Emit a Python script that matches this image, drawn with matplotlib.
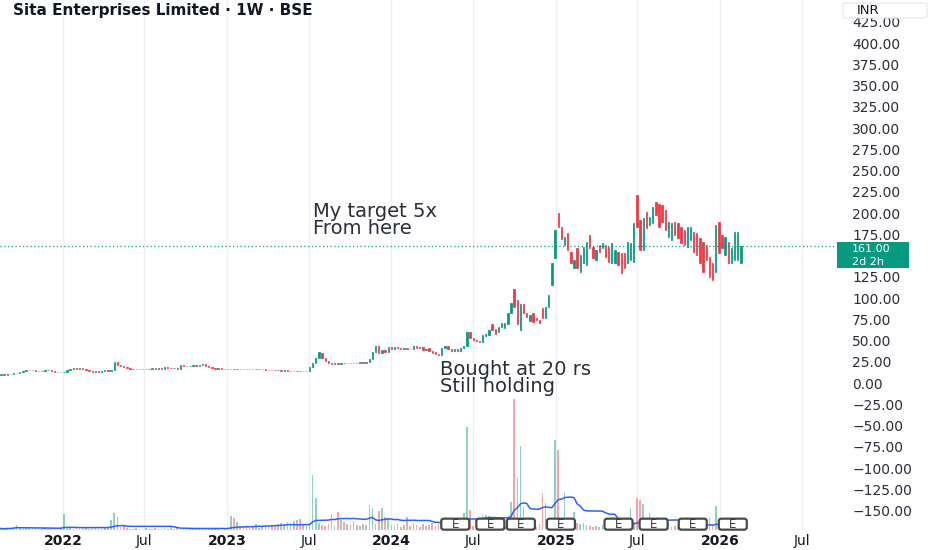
import numpy as np
import pandas as pd
import matplotlib
matplotlib.use('Agg')
import matplotlib.pyplot as plt
import matplotlib.dates as mdates
from matplotlib.patches import FancyBboxPatch, Rectangle
from matplotlib.transforms import ScaledTranslation

title = 'Sita Enterprises Limited · 1W · BSE'
first_week = '2021-08-16'

# weekly opens / closes
opens = [
    # 2021-08 .. 2023-07 (flat part)
    10, 10.5, 10, 11, 10.8, 11.5, 12, 12.5, 14.5, 15.5, 15, 15.3, 14.5, 14, 14.2, 15,
    15.5, 14, 13, 12.5, 12.8, 13.5, 15, 16.5, 17.5, 17, 17.5, 16, 15, 14.5, 13.5, 14,
    13.2, 14, 15, 14.6, 15.5, 24.5, 21, 19.5,
    19, 17.5, 16.5, 17, 16, 16.5, 16, 16.8, 16.5, 17.2, 16.8, 17.5, 17,
    19, 18, 17.2, 17.5, 17, 21, 20.5, 20, 20.5, 21, 20.6, 21.2, 22, 20,
    18.5, 17.5, 17, 17.3, 16.8, 17,
    16.5, 16.8, 16.2, 16.6, 16.3, 16.9, 16.4, 16.7, 16.2, 16.5, 16, 16.3,
    15.8, 15.2, 15, 14.8, 15.1, 14.6, 14.9, 14.4, 14.7, 14.3, 14.6, 14.2, 13.8,
    # 2023-07 .. 2024-12
    14.5, 19, 24, 29, 35, 29, 26, 23.5,
    22, 23, 22.5, 23.5, 23, 23.8, 23.2, 24, 23.5, 24.2, 23.8,
    24.5, 28, 37, 43, 35, 39, 36, 42, 40.5, 42, 41, 40, 41.5, 40.5, 39.5,
    44, 41, 42, 38.5, 41, 38, 36, 34, 33.5, 41, 44, 40, 38, 39.5, 37.5, 41,
    44, 60, 53, 51, 50, 48.5, 55, 57, 70, 64, 60, 66, 65, 70, 82, 111, 98, 62, 93, 82,
    # 2024-12 .. 2026-02
    73, 82, 76, 74, 88, 76, 89, 115, 147, 200,
    184, 162, 176, 154, 135, 159, 131, 141, 139, 174,
    160, 145, 162, 159, 162, 160, 141, 141, 154, 153,
    153, 141, 145, 142, 221, 192, 156, 201, 186, 188,
    213, 211, 209, 204, 172, 168, 189, 188, 184, 180,
    160, 168, 178, 176, 171, 166, 162, 148, 141, 131,
    189, 174, 151, 166, 141, 145, 145, 141,
]
closes = [
    10.5, 10, 11, 10.8, 11.5, 12, 12.5, 14.5, 15.5, 15, 15.3, 14.5, 14, 14.2, 15, 15.5,
    14, 13, 12.5, 12.8, 13.5, 15, 16.5, 17.5, 17, 17.5, 16, 15, 14.5, 13.5, 14, 13.2,
    14, 15, 14.6, 15.5, 24.5, 21, 19.5, 19,
    17.5, 16.5, 17, 16, 16.5, 16, 16.8, 16.5, 17.2, 16.8, 17.5, 17, 19,
    18, 17.2, 17.5, 17, 21, 20.5, 20, 20.5, 21, 20.6, 21.2, 22, 20, 18.5,
    17.5, 17, 17.3, 16.8, 17, 16.5,
    16.8, 16.2, 16.6, 16.3, 16.9, 16.4, 16.7, 16.2, 16.5, 16, 16.3, 15.8,
    15.2, 15, 14.8, 15.1, 14.6, 14.9, 14.4, 14.7, 14.3, 14.6, 14.2, 13.8, 14.5,
    19, 24, 29, 36, 29, 26, 23.5, 22,
    23, 22.5, 23.5, 23, 23.8, 23.2, 24, 23.5, 24.2, 23.8, 24.5,
    28, 37, 43, 35, 39, 36, 42, 40.5, 42, 41, 40, 41.5, 40.5, 39.5, 44,
    41, 42, 38.5, 40, 38, 35, 34, 33.5, 41, 44, 40, 38, 39.5, 37.5, 41, 44,
    60, 53, 51, 50, 48.5, 57, 58, 62, 62, 58, 66, 71, 71, 82, 94, 90, 70, 93, 82, 78,
    80, 72, 74, 71, 76, 89, 104, 141, 180, 184,
    170, 172, 156, 141, 145, 135, 151, 160, 166, 159,
    147, 156, 154, 165, 148, 142, 165, 156, 139, 129,
    135, 166, 165, 188, 184, 156, 194, 182, 195, 207,
    198, 184, 189, 180, 189, 188, 174, 171, 165, 162,
    184, 184, 154, 151, 141, 131, 145, 125, 121, 186,
    153, 159, 172, 141, 159, 178, 178, 161,
]
# weekly volume (thousand shares, rough)
volumes = [
    1.5, 1, 2, 1.5, 3, 5, 2, 1.5, 2, 1,
    1.5, 2, 1, 1.5, 2, 1, 1.5, 2, 1, 2,
    16, 3, 2, 1.5, 2, 1, 1.5, 2, 1, 1.5,
    2, 1, 1.5, 2, 3, 10, 17, 13, 3, 5,
    2, 1.5, 1, 2, 1.5, 1, 2, 1.5, 1, 2,
    1.5, 1, 2, 1.5, 4, 1, 2, 1.5, 1, 1,
    1.5, 1, 1, 1.5, 1, 2, 1.5, 1, 1, 1.5,
    1, 1.5, 2, 14, 12, 8, 4, 3, 5, 2,
    3, 6, 2, 3, 4, 3, 5, 4, 6, 7,
    5, 8, 6, 9, 10, 11, 5, 4, 6, 55,
    32, 7, 5, 4, 6, 16, 4, 18, 10, 8,
    6, 5, 9, 5, 4, 6, 5, 25, 22, 6,
    19, 22, 13, 12, 5, 4, 6, 3, 5, 13,
    4, 7, 5, 3, 6, 4, 5, 7, 4, 6,
    5, 3, 4, 6, 3, 5, 4, 17, 103, 20,
    4, 6, 3, 15, 15, 14, 5, 4, 3, 5,
    4, 6, 28, 131, 52, 84, 23, 6, 5, 4,
    3, 6, 37, 27, 8, 5, 90, 80, 12, 38,
    10, 9, 18, 7, 6, 7, 5, 4, 3, 4,
    3, 5, 4, 3, 2, 4, 5, 3, 4, 6,
    22, 8, 32, 30, 26, 7, 17, 6, 5, 4,
    3, 4, 7, 3, 4, 3, 5, 4, 3, 4,
    3, 4, 5, 6, 4, 12, 5, 24, 6, 4,
    3, 5, 4, 3, 4, 2,
]
earnings_dates = ['2024-05-22', '2024-08-08', '2024-10-15', '2025-01-12',
                  '2025-05-20', '2025-08-06', '2025-11-01', '2026-01-29']
last_price = 161.00
countdown = '2d 2h'
note_top = 'My target 5x\nFrom here'
note_bottom = 'Bought at 20 rs\nStill holding'

UP = '#089981'
DOWN = '#f23645'
TXT = '#131722'

df = pd.DataFrame({'open': opens, 'close': closes, 'volume': volumes})
df['date'] = pd.date_range(first_week, periods=len(df), freq='7D')
df['up'] = df['close'] >= df['open']
df['vol_ma'] = df['volume'].rolling(20, min_periods=1).mean()

fig = plt.figure(figsize=(9.32, 5.5), dpi=100)
rect = [0, 20 / 550, 834 / 932, 530 / 550]
ax_v = fig.add_axes(rect)
ax = fig.add_axes(rect, sharex=ax_v)
ax.patch.set_visible(False)

# volume pane
vcol = np.where(df['up'], UP, DOWN)
ax_v.bar(df['date'], df['volume'], width=3.6, color=vcol, alpha=0.45, linewidth=0)
ax_v.plot(df['date'], df['vol_ma'], color='#2962ff', lw=1.1)
ax_v.set_ylim(0, df['volume'].max() * 530 / 131)
ax_v.grid(axis='x', color='#eef0f4', lw=1)
ax_v.set_axisbelow(True)
ax_v.tick_params(left=False, labelleft=False, bottom=False, labelbottom=False)
for s in ax_v.spines.values():
    s.set_visible(False)

# earnings markers
for d in earnings_dates:
    xd = mdates.date2num(pd.Timestamp(d))
    tr = fig.dpi_scale_trans + ScaledTranslation(xd, 0.011, ax_v.get_xaxis_transform())
    ax_v.add_patch(FancyBboxPatch((-0.14, -0.055), 0.28, 0.11,
                                  boxstyle='round,pad=0,rounding_size=0.025',
                                  fc='white', ec='#4a4a4a', lw=1.6,
                                  transform=tr, zorder=5, clip_on=False))
    ax_v.text(xd, 0.011, 'E', transform=ax_v.get_xaxis_transform(), ha='center',
              va='center', fontsize=8.5, color='#3a3a3a', zorder=6)

# candles
ccol = np.where(df['up'], UP, DOWN)
lo = np.minimum(df['open'], df['close'])
hi = np.maximum(df['open'], df['close'])
ax.bar(df['date'], hi - lo, bottom=lo, width=3.0, color=ccol, edgecolor=ccol,
       linewidth=0.55)
ax.axhline(last_price, color=UP, lw=0.9, ls=(0, (1, 2)))

ax.set_ylim(-172.9, 450.6)
ax.set_xlim(pd.Timestamp('2021-08-14'), pd.Timestamp('2026-09-11'))
yticks = np.arange(-150, 426, 25)
ax.set_yticks(yticks)
# the 150 label sits under the last-price tag
ax.set_yticklabels(['' if v == 150 else f'{v:.2f}'.replace('-', '\u2212') for v in yticks])
ax.yaxis.tick_right()
ax.tick_params(axis='y', length=0, pad=13, labelsize=10, labelcolor='#2a2e39')
for lab in ax.get_yticklabels():
    lab.set_horizontalalignment('left')

xticks = pd.date_range('2022-01-01', '2026-07-01', freq='6MS')
ax.set_xticks(xticks)
ax.set_xticklabels([str(t.year) if t.month == 1 else 'Jul' for t in xticks])
ax.tick_params(axis='x', length=0, pad=3, labelsize=10, labelcolor=TXT)
for lab, t in zip(ax.get_xticklabels(), xticks):
    if t.month == 1:
        lab.set_fontweight('bold')
for s in ax.spines.values():
    s.set_visible(False)

# notes
ax.text(pd.Timestamp('2023-07-10'), 213, note_top, fontsize=14, color='#2a2e39',
        va='top', linespacing=0.85)
ax.text(pd.Timestamp('2024-04-18'), 27, note_bottom, fontsize=14, color='#2a2e39',
        va='top', linespacing=0.85)

# last price tag
fig.patches.append(Rectangle((837 / 932, 1 - 268 / 550), 72 / 932, 26 / 550,
                             transform=fig.transFigure, fc=UP, ec='none'))
fig.text(852 / 932, 1 - 249 / 550, f'{last_price:.2f}', fontsize=8, color='white',
         va='center', ha='left')
fig.text(852 / 932, 1 - 262 / 550, countdown, fontsize=8, color='white',
         va='center', ha='left')

fig.text(13 / 932, 1 - 11 / 550, title, fontsize=11, fontweight='semibold',
         color=TXT, va='center')
fig.patches.append(FancyBboxPatch((843 / 932, 1 - 18 / 550), 84 / 932, 15 / 550,
                                  boxstyle='round,pad=0,rounding_size=0.004',
                                  transform=fig.transFigure, fc='white',
                                  ec='#e6e8ee', lw=0.8, zorder=3))
fig.text(857 / 932, 1 - 10.5 / 550, 'INR', fontsize=9.5, color=TXT, va='center',
         ha='left', zorder=4)

fig.savefig('out.png', dpi=100)
